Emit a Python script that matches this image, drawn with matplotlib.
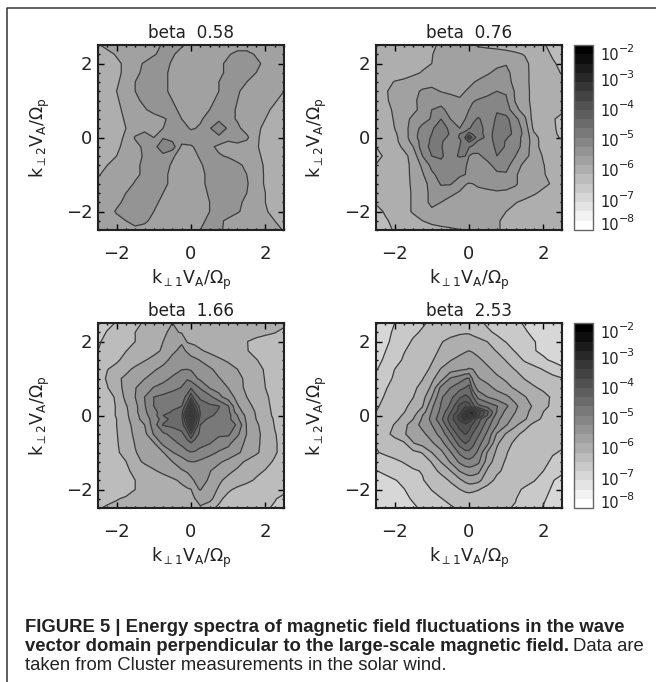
import numpy as np
import matplotlib
matplotlib.use("Agg")
import matplotlib.pyplot as plt
from matplotlib.colors import ListedColormap
from matplotlib.lines import Line2D
from matplotlib.ticker import MultipleLocator

# spectra, in contour steps above 1e-8 (one step = 0.3 decades)
k_coarse = [-2.5, -2.25, -2, -1.75, -1.5, -1.25, -1, -0.75, -0.5, -0.25, 0,
            0.25, 0.5, 0.75, 1, 1.25, 1.5, 1.75, 2, 2.25, 2.5]
k_fine = [-2.5, -2.25, -2, -1.75, -1.5, -1.25, -1, -0.75, -0.5, -0.25, -0.1, 0, 0.1,
          0.25, 0.5, 0.75, 1, 1.25, 1.5, 1.75, 2, 2.25, 2.5]

steps_058 = [
    [6.9,7.3,7.5,7.5,7.5,7.5,7.7,8.1,8.4,8.1,7.7,7.5,7.5,7.5,7.5,7.5,7.5,7.5,7.5,7.5,7.5],
    [6.4,6.7,7.1,7.5,7.5,7.5,7.9,8.3,8.1,7.7,7.5,7.5,7.5,7.5,7.9,8.3,8.3,7.9,7.5,7.5,7.5],
    [6.4,6.4,6.8,7.2,7.7,8.1,8.5,8.3,7.9,7.5,7.5,7.5,7.5,7.8,8.2,8.5,8.5,8.2,7.8,7.5,7.5],
    [6.4,6.4,6.8,7.2,7.8,8.2,8.5,8.2,7.8,7.5,7.5,7.5,7.5,7.8,8.2,8.5,8.4,8.0,7.6,7.5,7.5],
    [6.4,6.4,6.9,7.3,8.0,8.4,8.5,8.2,7.8,7.5,7.5,7.5,7.6,8.0,8.4,8.4,8.0,7.6,7.5,7.5,7.5],
    [6.4,6.5,7.0,7.4,8.0,8.4,8.5,8.2,7.8,7.5,7.5,7.5,7.6,8.0,8.4,8.1,7.7,7.5,7.5,7.4,7.0],
    [6.4,6.6,6.9,7.3,7.8,8.2,8.5,8.4,8.0,7.6,7.5,7.5,7.8,8.2,8.4,8.0,7.6,7.5,7.4,7.1,6.7],
    [6.4,6.5,6.8,7.2,7.5,7.9,8.3,8.5,8.2,7.8,7.5,7.6,8.0,8.4,8.3,7.9,7.6,7.5,7.2,6.8,6.4],
    [6.4,6.4,6.7,7.1,7.5,7.5,7.6,7.9,8.2,8.0,7.6,7.9,8.3,8.7,8.3,7.9,7.5,7.4,7.0,6.6,6.4],
    [6.4,6.4,6.6,7.0,7.4,7.8,7.7,8.0,8.5,8.4,7.9,8.1,8.9,9.9,8.8,8.2,7.6,7.2,6.8,6.4,6.4],
    [6.4,6.4,6.6,7.2,8.1,8.3,8.0,8.9,8.6,8.5,8.5,8.5,8.5,8.7,8.2,8.3,8.2,7.2,6.6,6.4,6.4],
    [6.4,6.4,6.8,7.3,7.7,8.2,8.6,9.8,9.5,7.8,7.9,8.3,8.2,7.8,7.7,7.8,7.5,7.1,6.7,6.4,6.4],
    [6.4,6.6,7.0,7.4,7.7,8.1,8.5,8.7,8.1,7.7,7.7,8.1,8.1,8.1,7.9,7.6,7.5,7.2,6.8,6.4,6.4],
    [6.6,7.0,7.4,7.5,7.8,8.2,8.5,8.3,7.9,7.5,7.5,7.9,8.3,8.5,8.5,8.2,7.8,7.3,6.9,6.5,6.4],
    [6.9,7.3,7.5,7.5,7.8,8.2,8.5,8.2,7.8,7.5,7.5,7.8,8.2,8.5,8.6,8.4,8.0,7.4,6.9,6.5,6.4],
    [7.3,7.5,7.5,7.6,8.1,8.5,8.5,8.2,7.8,7.5,7.5,7.8,8.2,8.5,8.6,8.5,8.1,7.4,6.9,6.5,6.4],
    [7.5,7.5,7.6,8.0,8.4,8.6,8.4,8.0,7.6,7.5,7.5,7.7,8.1,8.5,8.6,8.4,8.0,7.4,7.0,6.6,6.4],
    [7.5,7.5,7.8,8.2,8.5,8.6,8.2,7.8,7.5,7.5,7.5,7.6,8.0,8.4,8.5,8.2,7.8,7.4,7.0,6.6,6.4],
    [7.5,7.6,8.1,8.5,8.6,8.4,8.0,7.6,7.5,7.5,7.5,7.6,8.0,8.4,8.5,8.1,7.7,7.4,7.1,6.7,6.4],
    [7.5,7.5,7.7,8.0,8.4,8.2,7.7,7.5,7.5,7.5,7.5,7.8,8.2,8.2,7.8,7.5,7.5,7.5,7.4,7.0,6.6],
    [7.5,7.5,7.5,7.6,7.7,7.6,7.5,7.5,7.5,7.5,7.6,8.0,8.4,8.2,7.7,7.5,7.5,7.5,7.5,7.4,6.9],
]

steps_076 = [
    [6.4,6.4,6.4,6.5,6.6,6.7,6.9,7.1,7.2,7.3,7.3,7.2,7.1,6.9,6.8,6.7,6.6,6.5,6.4,6.3,6.1,5.7,5.4],
    [6.3,6.3,6.4,6.5,6.6,6.8,6.98,7.15,7.3,7.4,7.4,7.4,7.4,7.4,7.4,7.4,7.3,7.15,6.95,6.6,6.3,5.9,5.6],
    [6.3,6.3,6.4,6.5,6.7,6.85,7.0,7.25,7.4,7.5,7.5,7.5,7.5,7.5,7.6,7.8,7.95,7.6,7.2,6.7,6.4,6.1,5.8],
    [6.3,6.3,6.5,6.6,6.85,7.05,7.2,7.35,7.45,7.5,7.5,7.55,7.6,7.7,7.9,8.2,8.2,7.7,7.2,6.75,6.4,6.2,5.95],
    [6.3,6.7,7.05,7.2,7.35,7.5,7.6,7.6,7.6,7.7,7.75,7.85,7.95,8.1,8.4,8.5,8.3,7.75,7.2,6.75,6.5,6.35,6.2],
    [6.5,6.95,7.15,7.3,7.7,8.15,8.3,7.95,7.85,7.9,8.0,8.1,8.2,8.35,8.6,9.0,8.9,7.85,7.2,6.8,6.5,6.4,6.3],
    [6.5,6.9,7.2,7.5,7.85,8.25,8.9,8.7,8.3,8.05,8.4,8.7,8.9,9.1,9.4,9.5,9.15,7.9,7.2,6.8,6.5,6.4,6.3],
    [6.4,6.8,7.1,7.5,7.8,8.25,9.0,9.2,8.7,8.45,8.8,9.0,9.3,9.5,9.7,9.95,9.5,8.3,7.5,6.7,6.45,6.3,6.2],
    [6.4,6.75,7.05,7.7,8.2,8.6,9.1,10.0,9.0,8.6,9.0,9.4,9.8,10.1,9.6,10.1,10.3,9.3,8.2,6.5,6.4,6.1,5.7],
    [6.4,6.7,7.0,7.6,8.5,9.3,9.9,10.4,9.8,9.0,9.6,9.9,10.2,10.3,9.7,10.2,10.4,9.6,8.6,6.7,6.4,6.2,5.6],
    [6.35,6.6,6.85,7.5,8.6,9.45,10.0,10.5,9.9,10.0,10.3,11.4,10.9,10.3,9.7,10.3,10.4,9.7,8.7,7.1,6.5,6.25,5.7],
    [6.3,6.5,6.75,7.5,8.6,9.5,10.1,10.4,9.7,10.05,11.1,13.3,11.7,10.5,9.7,10.3,10.1,9.5,8.6,7.4,6.5,6.2,5.9],
    [6.2,6.4,6.75,7.4,8.4,9.4,10.2,10.1,9.6,9.85,10.6,11.2,10.7,9.9,9.6,10.3,9.95,9.5,8.6,7.5,6.5,6.3,6.1],
    [6.0,6.3,6.6,7.2,8.0,9.5,10.3,10.05,9.6,10.0,10.3,10.1,9.8,9.5,9.5,10.2,9.95,9.4,8.6,7.4,6.6,6.4,6.3],
    [5.6,6.2,6.4,6.7,7.4,9.0,10.0,10.1,9.7,10.1,10.0,9.0,8.7,8.8,9.4,10.0,9.6,9.0,8.3,7.6,6.9,6.5,6.4],
    [6.05,6.3,6.4,6.6,7.3,8.2,9.3,9.8,9.5,9.3,9.1,8.8,8.5,8.4,8.7,9.4,9.3,8.5,7.7,7.3,7.05,6.5,6.4],
    [6.2,6.35,6.45,6.7,7.2,7.9,8.8,9.4,9.4,9.2,9.0,8.7,8.5,8.4,8.5,8.8,8.9,8.1,7.6,7.3,7.1,6.6,6.4],
    [6.3,6.4,6.5,6.7,7.15,7.7,8.3,9.1,9.1,8.4,8.05,7.95,8.0,8.15,8.3,8.5,8.4,8.1,7.6,7.4,7.2,6.9,6.5],
    [6.2,6.35,6.5,6.7,7.1,7.7,8.2,8.5,8.2,7.9,7.75,7.7,7.7,7.75,7.8,7.85,7.8,7.7,7.4,7.1,6.8,6.6,6.4],
    [6.1,6.3,6.5,6.7,7.1,7.7,8.2,8.0,7.7,7.5,7.5,7.45,7.45,7.45,7.45,7.4,7.25,7.05,6.8,6.6,6.5,6.4,6.3],
    [5.7,6.1,6.4,6.7,7.1,7.5,7.85,7.7,7.5,7.4,7.4,7.4,7.35,7.3,7.25,7.15,7.0,6.7,6.6,6.5,6.4,6.4,6.3],
    [5.5,5.9,6.2,6.4,6.7,7.0,7.2,7.3,7.3,7.3,7.3,7.3,7.25,7.2,7.15,7.05,6.9,6.6,6.5,6.4,6.4,6.4,6.3],
    [5.3,5.7,6.1,6.3,6.4,6.6,6.7,6.8,6.9,6.98,7.05,7.1,7.1,7.1,7.1,7.05,6.9,6.6,6.5,6.4,6.4,6.4,6.3],
]

steps_166 = [
    [4.6,4.8,5.05,5.4,5.8,6.1,6.4,6.7,7.0,6.9,6.8,6.7,6.6,6.55,6.5,6.5,6.5,6.5,6.5,6.4,6.4,6.4,6.3],
    [4.7,5.05,5.3,5.6,6.0,6.3,6.5,6.85,7.2,6.9,6.8,6.75,6.7,6.7,6.65,6.6,6.6,6.5,6.4,6.3,6.2,6.05,5.7],
    [4.95,5.1,5.3,5.6,6.0,6.4,6.7,7.0,7.7,7.9,6.9,6.8,6.75,6.65,6.5,6.35,6.25,6.15,6.02,5.8,5.6,5.5,5.4],
    [5.0,5.2,5.5,5.98,6.25,6.5,6.8,7.1,7.85,8.2,7.9,7.6,7.4,7.1,6.8,6.55,6.35,6.2,6.05,5.7,5.6,5.5,5.4],
    [5.1,5.4,5.9,6.2,6.55,6.95,7.2,7.75,8.2,8.4,8.4,8.3,8.2,7.95,7.5,7.15,6.85,6.6,6.3,6.05,5.7,5.5,5.4],
    [5.3,5.98,6.2,6.75,7.2,7.4,7.9,8.2,8.6,8.95,9.0,8.9,8.7,8.5,8.15,7.7,7.4,7.0,6.6,6.3,5.9,5.6,5.5],
    [5.6,6.1,6.8,7.2,7.6,7.97,8.3,8.7,9.15,9.7,9.9,9.6,9.2,8.8,8.4,8.05,7.7,7.25,6.8,6.4,5.95,5.6,5.5],
    [5.6,5.95,6.6,7.3,7.95,8.5,9.05,9.35,9.7,10.05,10.6,10.9,10.5,9.9,8.95,8.6,7.98,7.35,6.8,6.4,6.0,5.7,5.5],
    [5.5,5.75,6.1,7.3,8.0,9.0,10.0,10.25,10.5,10.7,11.2,12.7,11.4,10.8,10.3,9.3,8.5,7.7,7.0,6.5,6.1,5.8,5.6],
    [5.5,5.7,6.05,6.9,7.7,8.9,10.0,10.3,10.7,11.0,13.0,16.0,13.5,11.5,11.2,11.05,10.1,8.1,7.4,6.7,6.2,5.8,5.6],
    [5.5,5.7,6.05,6.8,7.7,8.8,9.7,10.5,11.1,11.6,14.5,18.0,14.5,11.9,11.3,10.9,10.3,8.4,7.6,6.9,6.3,5.8,5.6],
    [5.4,5.7,6.05,6.8,7.55,8.7,9.5,11.0,11.3,11.8,15.5,19.2,15.5,11.9,11.2,10.7,10.4,9.0,7.7,6.95,6.4,5.8,5.6],
    [5.4,5.7,6.0,6.75,7.45,8.6,9.3,10.5,11.4,11.6,14.5,18.0,14.5,11.4,10.8,10.6,10.3,9.2,7.8,7.0,6.5,5.9,5.6],
    [5.4,5.7,6.0,6.6,7.35,8.0,9.5,11.1,11.3,11.5,13.5,16.0,13.5,11.0,10.7,10.5,10.4,9.9,7.9,7.15,6.6,5.95,5.7],
    [5.4,5.6,5.95,6.55,7.2,7.7,9.1,9.8,10.3,10.8,11.5,13.0,11.5,10.8,10.5,10.2,10.2,9.2,7.97,7.25,6.7,6.05,5.7],
    [5.4,5.6,5.9,6.5,7.05,7.5,7.9,9.3,9.7,10.2,10.7,10.9,10.7,10.4,10.05,9.5,9.25,8.4,7.8,7.2,6.7,6.1,5.7],
    [5.4,5.6,5.85,6.35,6.95,7.3,7.6,7.95,8.95,9.5,9.8,9.95,9.9,9.6,9.3,8.9,8.6,8.15,7.65,7.15,6.65,6.1,5.7],
    [5.3,5.5,5.7,5.98,6.7,7.15,7.4,7.7,8.0,8.5,8.9,9.0,9.0,8.85,8.5,8.15,7.75,7.3,6.85,6.5,6.25,5.9,5.6],
    [5.2,5.4,5.6,5.85,6.2,6.5,6.9,7.2,7.5,7.9,8.1,8.25,8.35,8.4,8.05,7.6,7.2,6.85,6.5,6.2,5.95,5.7,5.5],
    [5.2,5.3,5.5,5.7,6.0,6.2,6.4,6.6,6.85,7.15,7.5,7.85,8.05,8.3,7.9,7.15,6.75,6.5,6.2,5.9,5.6,5.5,5.4],
    [5.2,5.3,5.5,5.7,6.0,6.15,6.3,6.45,6.6,6.8,6.9,6.97,7.8,8.05,7.4,6.9,6.15,5.8,5.6,5.5,5.4,5.3,5.2],
    [5.4,5.7,5.95,6.1,6.2,6.3,6.4,6.5,6.6,6.7,6.8,6.9,6.98,7.3,7.4,6.2,5.7,5.55,5.5,5.4,5.3,5.05,4.8],
    [5.9,6.15,6.2,6.3,6.35,6.4,6.4,6.45,6.5,6.55,6.6,6.7,6.8,6.9,6.2,5.85,5.6,5.5,5.4,5.3,5.1,4.9,4.6],
]

steps_253 = [
    [3.4,3.7,4.0,4.2,4.55,4.9,5.15,5.4,5.55,5.6,5.6,5.55,5.45,5.2,4.85,4.6,4.4,4.2,3.9,3.7,3.5,3.4,3.3],
    [3.4,3.8,4.1,4.5,4.85,5.1,5.35,5.6,5.75,5.85,5.9,5.9,5.8,5.6,5.15,4.85,4.6,4.35,4.1,3.8,3.6,3.5,3.4],
    [3.5,3.85,4.2,4.7,5.1,5.3,5.6,5.95,6.2,6.45,6.5,6.45,6.35,6.25,5.98,5.3,4.95,4.6,4.3,4.03,3.8,3.6,3.5],
    [3.6,3.98,4.4,4.95,5.25,5.5,5.8,6.1,6.4,6.7,6.9,7.0,6.9,6.65,6.3,5.95,5.5,4.9,4.4,4.05,3.8,3.6,3.5],
    [3.7,4.15,4.7,5.1,5.4,5.65,5.95,6.25,6.95,7.3,7.5,7.55,7.45,7.2,6.7,6.35,5.95,5.55,4.85,4.5,4.15,3.85,3.6],
    [3.9,4.5,5.0,5.3,5.55,5.8,6.1,7.1,7.5,7.8,7.95,8.05,8.0,7.7,7.2,6.7,6.3,5.95,5.7,5.3,4.95,4.6,4.2],
    [4.35,4.75,5.1,5.4,5.7,5.95,6.8,7.55,9.1,9.5,9.95,10.1,8.85,8.05,7.65,7.2,6.85,6.45,5.95,5.65,5.45,5.25,5.05],
    [4.6,4.95,5.2,5.45,5.8,6.3,7.2,9.3,10.0,10.7,11.0,11.4,9.6,8.6,8.3,7.75,7.3,6.85,6.5,6.1,5.8,5.6,5.5],
    [4.8,5.05,5.25,5.65,5.98,6.6,8.0,9.85,10.7,11.8,12.3,12.0,11.1,9.7,9.0,8.5,8.2,7.6,7.05,6.65,6.3,5.85,5.5],
    [4.9,5.2,5.5,5.8,6.3,6.95,8.8,10.1,11.2,13.3,13.8,13.6,12.4,11.3,10.7,10.05,9.2,8.2,7.4,6.85,6.25,5.8,5.6],
    [5.0,5.3,5.6,5.95,6.5,7.5,9.05,10.3,11.85,13.5,15.3,16.5,16.3,14.5,12.2,9.95,8.7,8.0,7.25,6.65,6.0,5.8,5.6],
    [5.1,5.4,5.7,6.1,6.75,8.0,9.2,10.5,12.3,14.4,16.4,18.8,16.4,14.2,11.9,9.5,8.6,7.8,7.2,6.55,5.9,5.7,5.5],
    [5.2,5.5,5.8,6.25,7.0,8.15,9.3,10.75,12.5,14.3,15.6,14.9,14.0,12.4,10.9,9.3,8.3,7.7,7.1,6.35,5.8,5.6,5.4],
    [5.25,5.6,6.05,6.7,7.5,8.35,9.0,10.15,12.1,13.4,13.7,13.3,12.9,12.0,10.4,9.05,8.1,7.2,6.4,5.75,5.5,5.3,5.2],
    [5.3,5.75,6.25,6.9,7.4,7.75,8.5,9.4,10.85,12.6,13.05,12.85,11.95,11.2,9.75,7.9,6.9,6.25,5.7,5.5,5.35,5.25,5.15],
    [5.05,5.35,5.6,5.85,6.95,7.4,7.85,8.65,9.85,11.4,12.05,11.7,11.3,10.35,9.2,7.15,6.4,5.75,5.55,5.4,5.3,5.2,5.1],
    [4.95,5.1,5.3,5.5,5.75,6.05,7.0,7.75,8.9,10.2,10.7,10.8,10.5,9.8,7.9,6.8,6.1,5.4,5.25,5.15,5.1,5.05,4.95],
    [4.6,4.75,4.85,5.05,5.3,5.6,6.05,7.05,8.1,9.2,9.6,9.7,9.55,9.2,7.55,6.4,5.9,5.6,5.45,5.3,5.15,4.9,4.6],
    [3.95,4.25,4.5,4.7,4.9,5.05,5.7,6.2,6.95,8.05,8.4,8.5,8.45,8.25,6.8,6.15,5.8,5.6,5.4,5.2,5.0,4.6,4.2],
    [3.4,3.65,3.95,4.2,4.55,4.95,5.3,5.65,6.1,6.8,7.25,7.5,7.5,7.3,6.35,5.8,5.55,5.4,5.25,5.05,4.6,4.05,3.7],
    [3.2,3.4,3.7,3.97,4.3,4.65,5.03,5.3,5.65,5.98,6.2,6.25,6.2,6.05,5.7,5.5,5.35,5.15,4.9,4.6,4.25,3.9,3.6],
    [3.1,3.3,3.55,3.8,4.1,4.4,4.7,4.97,5.2,5.4,5.5,5.55,5.5,5.45,5.35,5.25,5.15,5.03,4.7,4.4,4.1,3.75,3.5],
    [3.0,3.2,3.4,3.6,3.85,4.15,4.45,4.65,4.9,5.1,5.15,5.2,5.2,5.2,5.15,5.1,5.05,4.95,4.6,4.3,3.95,3.65,3.4],
]

titles = ["beta  0.58", "beta  0.76", "beta  1.66", "beta  2.53"]
cbar_exponents = ["\u22122", "\u22123", "\u22124", "\u22125", "\u22126", "\u22127", "\u22128"]
cbar_label_spots = [-2.49, -3.33, -4.30, -5.28, -6.25, -7.25, -8.0]

W, H = 656, 682
INK = "#222222"
plt.rcParams["font.family"] = "DejaVu Sans"
plt.rcParams["mathtext.fontset"] = "dejavusans"
plt.rcParams["mathtext.default"] = "regular"

levels = np.linspace(-8, -2, 21)
grays = np.linspace(1, 0, 20)
cmap = ListedColormap([(g, g, g) for g in grays])


def px_axes(fig, x0, y0, x1, y1):
    # pixel box measured from the top left corner
    return fig.add_axes([x0 / W, 1 - y1 / H, (x1 - x0) / W, (y1 - y0) / H])


def draw_panel(ax, k, steps, title):
    k = np.array(k)
    z = -8 + 0.3 * np.array(steps)[::-1]
    cf = ax.contourf(k, k, z, levels=levels, cmap=cmap)
    ax.contour(k, k, z, levels=levels, colors="#3c3c3c", linewidths=0.9, linestyles="solid")
    ax.set_xlim(-2.5, 2.5)
    ax.set_ylim(-2.5, 2.5)
    ax.set_xticks([-2, 0, 2])
    ax.set_yticks([-2, 0, 2])
    ax.xaxis.set_minor_locator(MultipleLocator(0.25))
    ax.yaxis.set_minor_locator(MultipleLocator(0.25))
    ax.tick_params(which="major", direction="in", top=True, right=True, length=4, width=1)
    ax.tick_params(which="minor", direction="in", top=True, right=True, length=1.5, width=1)
    ax.tick_params(axis="x", which="major", labelsize=13, pad=11, labelcolor=INK)
    ax.tick_params(axis="y", which="major", labelsize=13, pad=4, labelcolor=INK)
    for s in ax.spines.values():
        s.set_linewidth(1.5)
        s.set_color(INK)
    ax.set_title(title, fontsize=12.2, pad=5, color=INK)
    ax.set_xlabel(r"k$_{{\perp}1}$V$_{A}$/$\Omega_{p}$", fontsize=12.5, color=INK)
    ax.set_ylabel(r"k$_{{\perp}2}$V$_{A}$/$\Omega_{p}$", fontsize=12.5, color=INK)
    ax.xaxis.set_label_coords(0.5, -0.205)
    ax.yaxis.set_label_coords(-0.25, 0.5)
    return cf


def draw_cbar(fig, cf, cax):
    cb = fig.colorbar(cf, cax=cax)
    cb.set_ticks([])
    cb.ax.minorticks_off()
    cb.outline.set_edgecolor("#666666")
    cb.outline.set_linewidth(1)
    for e, spot in zip(cbar_exponents, cbar_label_spots):
        trans = cax.get_yaxis_transform()
        cax.annotate("10", (1.38, spot), xycoords=trans, fontsize=10.5, va="baseline", color=INK)
        cax.annotate(e, (1.38, spot), xycoords=trans, xytext=(13.5, 6), textcoords="offset points",
                     fontsize=7.8, va="baseline", color=INK)


fig = plt.figure(figsize=(W / 100, H / 100), dpi=100)

ax1 = px_axes(fig, 98, 45, 284, 230)
ax2 = px_axes(fig, 376, 45, 562, 230)
ax3 = px_axes(fig, 98, 323, 284, 508)
ax4 = px_axes(fig, 376, 323, 562, 508)

draw_panel(ax1, k_coarse, steps_058, titles[0])
cf2 = draw_panel(ax2, k_fine, steps_076, titles[1])
draw_panel(ax3, k_fine, steps_166, titles[2])
cf4 = draw_panel(ax4, k_fine, steps_253, titles[3])

draw_cbar(fig, cf2, px_axes(fig, 574, 45, 593, 230))
draw_cbar(fig, cf4, px_axes(fig, 574, 323, 593, 508))

# page frame
fig.add_artist(Line2D([7 / W, 7 / W, 1], [0, 1 - 8 / H, 1 - 8 / H], color="#333333", lw=1.1))

# caption, the bold part of line two sets where the regular part starts
cap = {"family": "Liberation Sans", "fontsize": 13.3, "color": INK, "va": "baseline"}
fig.text(25 / W, 1 - 632 / H, "FIGURE 5 | Energy spectra of magnetic field fluctuations in the wave",
         fontweight="bold", **cap)
bold = fig.text(25 / W, 1 - 651 / H,
                "vector domain perpendicular to the large-scale magnetic field.",
                fontweight="bold", **cap)
fig.canvas.draw()
end_x = bold.get_window_extent().x1
fig.text((end_x + 4) / W, 1 - 651 / H, "Data are", **cap)
fig.text(25 / W, 1 - 670 / H, "taken from Cluster measurements in the solar wind.", **cap)

fig.savefig("out.png", dpi=100)
